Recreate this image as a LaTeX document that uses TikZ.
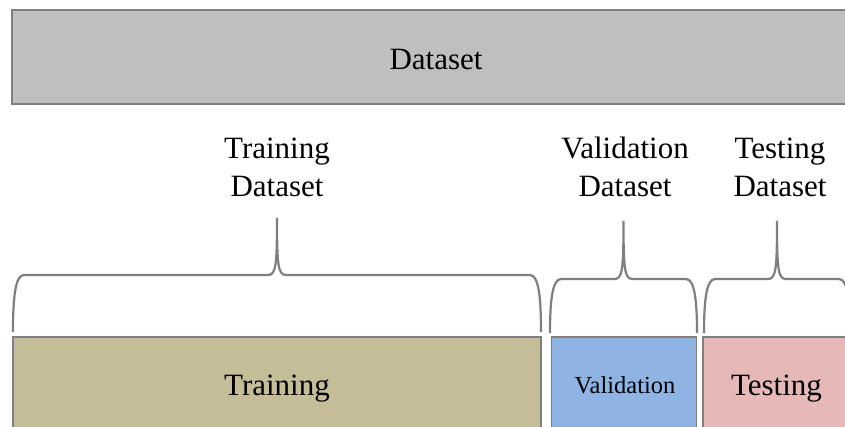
\documentclass[tikz,border=0pt]{standalone}
\usepackage{fontspec}
\setmainfont{Liberation Serif}
\definecolor{dsgray}{HTML}{BFBFBF}
\definecolor{edgegray}{HTML}{7F7F7F}
\definecolor{trainfill}{HTML}{C4BD97}
\definecolor{valfill}{HTML}{8EB4E3}
\definecolor{testfill}{HTML}{E6B9B8}
\newcommand\dsbrace[5]{% left, right, bottom, horizontal, top
  \draw[bracestyle] (#1,#3) .. controls (#1,{#4+24}) and ({#1+2},#4) .. ({#1+11},#4)
    -- ({(#1+#2)/2-9},#4) .. controls ({(#1+#2)/2-1},#4) and ({(#1+#2)/2},{#4-10}) .. ({(#1+#2)/2},#5)
    .. controls ({(#1+#2)/2},{#4-10}) and ({(#1+#2)/2+1},#4) .. ({(#1+#2)/2+9},#4)
    -- ({#2-11},#4) .. controls ({#2-2},#4) and (#2,{#4+24}) .. (#2,#3);}
\begin{document}
\begin{tikzpicture}[x=1pt,y=-1pt,
  boxstyle/.style={draw=edgegray,line width=1.6pt,inner sep=0pt,anchor=center},
  bracestyle/.style={draw=edgegray,line width=2.2pt},
  bigtext/.style={font=\fontsize{31}{38}\selectfont,inner sep=0pt},
  labelstyle/.style={font=\fontsize{31}{38}\selectfont,align=center,inner sep=0pt}]
\useasboundingbox (0,0) rectangle (845,427);
\clip (0,0) rectangle (845,427);
\fill[white] (0,0) rectangle (845,427);
% top dataset box
\node[boxstyle,fill=dsgray,minimum width=848pt,minimum height=94pt] (dataset) at (436,57) {};
\node[bigtext] (datasettext) at (436,60) {Dataset};
% bottom boxes
\node[boxstyle,fill=trainfill,minimum width=528pt,minimum height=103pt,font=\fontsize{31}{38}\selectfont] (training) at (277,388.5) {Training};
\node[boxstyle,fill=valfill,minimum width=145pt,minimum height=103pt] (validation) at (624,388.5) {};
\node[inner sep=0pt,font=\fontsize{24.5}{29}\selectfont] (validationtext) at (625,385.5) {Validation};
\node[boxstyle,fill=testfill,minimum width=147pt,minimum height=103pt,font=\fontsize{31}{38}\selectfont] (testing) at (776.5,388.5) {Testing};
% braces
\dsbrace{13}{541}{332}{275}{218}
\dsbrace{550}{697}{333}{279}{221}
\dsbrace{704}{850}{333}{279}{221}
% labels
\node[labelstyle] (trainlabel) at (277,167) {Training\\Dataset};
\node[labelstyle] (vallabel) at (625,167) {Validation\\Dataset};
\node[labelstyle] (testlabel) at (780,167) {Testing\\Dataset};
\end{tikzpicture}
\end{document}
